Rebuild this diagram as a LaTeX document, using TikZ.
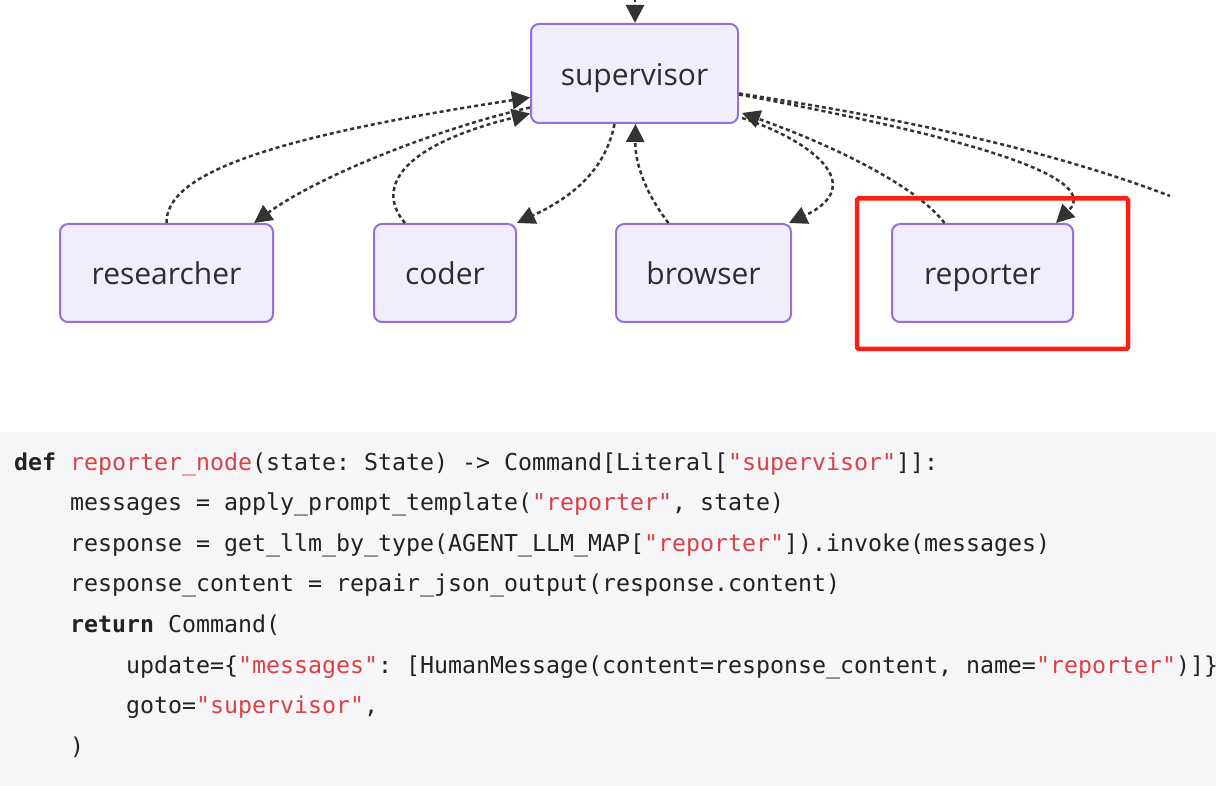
\documentclass[tikz,border=0pt]{standalone}
\usepackage{fontspec}
\setmonofont{DejaVu Sans Mono}
\newfontfamily\nodefont{Open Sans}
\usetikzlibrary{arrows.meta}

\definecolor{agentfill}{RGB}{240,238,253}
\definecolor{agentline}{RGB}{147,112,219}
\definecolor{nodetext}{RGB}{45,45,45}
\definecolor{edgegray}{RGB}{51,51,51}
\definecolor{markred}{RGB}{250,30,20}
\definecolor{codebg}{RGB}{246,246,248}
\definecolor{codered}{RGB}{220,64,70}
\definecolor{codeink}{RGB}{34,34,34}

\newcommand{\codestr}[1]{\textcolor{codered}{#1}}

\begin{document}
\begin{tikzpicture}[x=1pt, y=-1pt,
    agent/.style={draw=agentline, fill=agentfill, line width=2pt, rounded corners=8pt,
        text=nodetext, font=\nodefont\fontsize{30}{36}\selectfont,
        text height=24pt, text depth=0pt, minimum height=98pt},
    flow/.style={draw=edgegray, line width=2.5pt, dash pattern=on 4pt off 3pt,
        -{Triangle[length=18pt,width=18pt]}},
    codeline/.style={anchor=base west, inner sep=0pt, text=codeink,
        font=\ttfamily\fontsize{23.25}{28}\selectfont}]
    \useasboundingbox (0,0) rectangle (1224,786);

    % code panel
    \fill[codebg] (0,432) rectangle (1216,786);

    % graph nodes
    \node[agent, minimum width=207pt, minimum height=99pt] (sup) at (634.5,73.5) {supervisor};
    \node[agent, minimum width=213pt] (res) at (166.5,273) {researcher};
    \node[agent, minimum width=142pt] (cod) at (445,273) {coder};
    \node[agent, minimum width=175pt] (bro) at (703.5,273) {browser};
    \node[agent, minimum width=181pt] (rep) at (982.5,273) {reporter};

    \coordinate (topin) at (635,-2);
    \coordinate (offright) at (1170,196);

    % edges
    \draw[flow] (topin) -- ([xshift=0.5pt]sup.north);
    \draw[flow] (res.north) .. controls (166,178) and (250,140) .. ([yshift=-24pt]sup.west);
    \draw[flow] ([yshift=-34pt]sup.west) .. controls (440,128) and (320,175) .. ([xshift=-20pt]res.north east);
    \draw[flow] ([xshift=-40pt]cod.north) .. controls (378,192) and (392,148) .. ([yshift=-40pt]sup.west);
    \draw[flow] ([xshift=-20pt]sup.south) .. controls (605,172) and (570,198) .. (cod.north east);
    \draw[flow] ([xshift=-35pt]bro.north) .. controls (643,190) and (635,160) .. ([xshift=1pt]sup.south);
    \draw[flow] ([xshift=3pt,yshift=6pt]sup.south east) .. controls (810,140) and (870,185) .. ([xshift=-3pt]bro.north east);
    \draw[flow] ([xshift=-38pt]rep.north) .. controls (918,188) and (840,148) .. ([xshift=3pt,yshift=11pt]sup.south east);
    \draw[flow] ([yshift=-21pt]sup.east) .. controls (900,125) and (1110,170) .. ([xshift=-18pt]rep.north east);
    \draw[flow, -] ([yshift=-20pt]sup.east) .. controls (900,118) and (1050,150) .. (offright);

    % highlight
    \draw[markred, line width=4.5pt, rounded corners=1.5pt] (857,198.5) rectangle (1128,349);

    % code
    \node[codeline] (code1) at (14,470) {{\bfseries def} \codestr{reporter\_node}(state: State) -> Command[Literal[\codestr{"supervisor"}]]:};
    \node[codeline] (code2) at (70,510.6) {messages = apply\_prompt\_template(\codestr{"reporter"}, state)};
    \node[codeline] (code3) at (70,551.2) {response = get\_llm\_by\_type(AGENT\_LLM\_MAP[\codestr{"reporter"}]).invoke(messages)};
    \node[codeline] (code4) at (70,591.8) {response\_content = repair\_json\_output(response.content)};
    \node[codeline] (code5) at (70,632.4) {{\bfseries return} Command(};
    \node[codeline] (code6) at (126,673) {update=\{\codestr{"messages"}: [HumanMessage(content=response\_content, name=\codestr{"reporter"})]\}};
    \node[codeline] (code7) at (126,713.6) {goto=\codestr{"supervisor"},};
    \node[codeline] (code8) at (70,754.2) {)};
\end{tikzpicture}
\end{document}
